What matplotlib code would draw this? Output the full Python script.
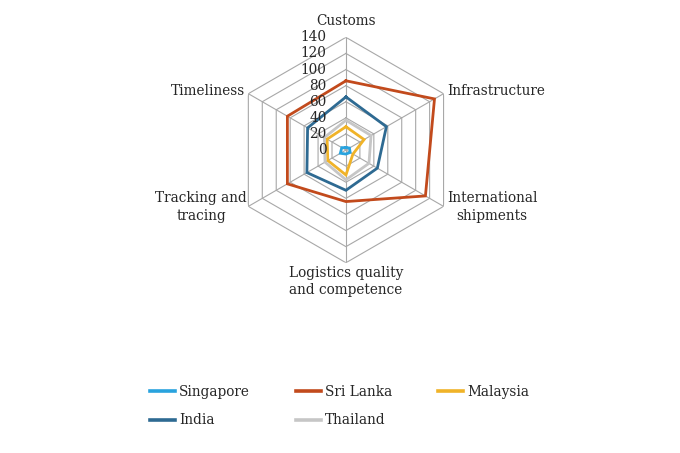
import numpy as np
import matplotlib
matplotlib.use("Agg")
import matplotlib.pyplot as plt
from matplotlib.lines import Line2D

categories = ["Customs", "Infrastructure", "International\nshipments",
              "Logistics quality\nand competence", "Tracking and\ntracing", "Timeliness"]
singapore = [3, 5, 6, 5, 8, 6]
sri_lanka = [86, 127, 114, 64, 84, 84]
malaysia = [29, 26, 10, 31, 26, 27]
india = [66, 58, 45, 50, 56, 55]
thailand = [37, 36, 33, 37, 30, 31]
ticks = [0, 20, 40, 60, 80, 100, 120, 140]

series = [("Singapore", singapore, "#29a3de"),
          ("Sri Lanka", sri_lanka, "#c24a1c"),
          ("Malaysia", malaysia, "#f0b328"),
          ("India", india, "#2e6a92"),
          ("Thailand", thailand, "#c6c6c6")]

plt.rcParams['font.family'] = ['DejaVu Serif']
FS = 9.8
TXT = "#262626"

fig = plt.figure(figsize=(6.8, 4.53), dpi=100)
ax = fig.add_axes([0.343, 0.420, 0.3315, 0.4976], projection='polar')
ax.set_theta_offset(np.pi / 2)
ax.set_theta_direction(-1)
ax.set_ylim(0, ticks[-1])
ax.set_axis_off()

n = len(categories)
angles = np.arange(n) * 2 * np.pi / n
closed = np.append(angles, angles[0])

grid_c = "#a8a8a8"
for r in ticks[1:]:
    ax.plot(closed, [r] * (n + 1), color=grid_c, lw=0.8, zorder=1)
for a in angles:
    ax.plot([a, a], [0, ticks[-1]], color=grid_c, lw=0.8, zorder=1)

handles = {}
for name, vals, col in series:
    v = np.append(vals, vals[0])
    ax.plot(closed, v, color=col, lw=2.0, zorder=3, solid_joinstyle='miter')
    handles[name] = Line2D([], [], color=col, lw=2.6)

for t in ticks:
    ax.annotate(str(t), xy=(0, t), xytext=(-14, 0), textcoords='offset points',
                ha='right', va='center', fontsize=FS, color=TXT)

label_style = [
    dict(off=(0, 11.5), ha='center', va='center'),
    dict(off=(2.5, 2), ha='left', va='center'),
    dict(off=(2.5, -0.7), ha='left', va='center'),
    dict(off=(0, -2), ha='center', va='top'),
    dict(off=(-1, -0.7), ha='right', va='center'),
    dict(off=(-2, 2), ha='right', va='center'),
]
for a, lab, st in zip(angles, categories, label_style):
    ax.annotate(lab, xy=(a, ticks[-1]), xytext=st['off'], textcoords='offset points',
                ha=st['ha'], va=st['va'], multialignment='center', fontsize=FS,
                color=TXT, linespacing=1.35, annotation_clip=False)

order = ["Singapore", "India", "Sri Lanka", "Thailand", "Malaysia"]
leg = fig.legend([handles[k] for k in order], order, ncol=3, loc='upper left',
                 bbox_to_anchor=(150 / 680, 1 - 385 / 453), frameon=False,
                 fontsize=FS, handlelength=1.85, handletextpad=0.3,
                 columnspacing=3.35, labelspacing=1.05, borderpad=0, borderaxespad=0)
for t in leg.get_texts():
    t.set_color(TXT)

fig.savefig("out.png", dpi=100)
